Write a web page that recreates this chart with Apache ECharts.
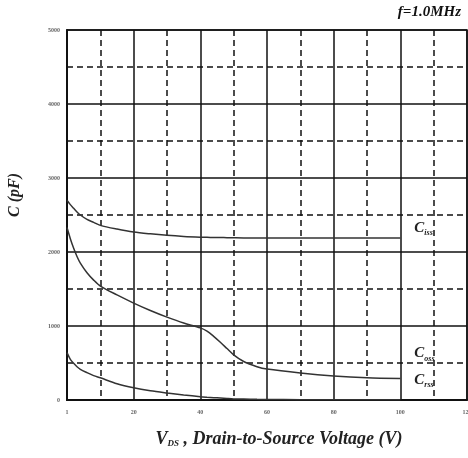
<!DOCTYPE html>
<html>
<head>
<meta charset="utf-8">
<script src="https://cdn.jsdelivr.net/npm/echarts@6/dist/echarts.min.js"></script>
<style>
  html, body { margin: 0; padding: 0; background: #fff; }
  #chart { width: 468px; height: 458px; }
</style>
</head>
<body>
<div id="chart"></div>
<script>
// drain-source voltage sample points (V)
const vds = [0, 1, 2, 3, 4, 6, 8, 10, 15, 20, 25, 30, 35, 40, 42, 44, 46, 48, 50, 53, 57, 60, 70, 80, 90, 100];
// capacitances (pF)
const ciss = [2700, 2640, 2590, 2540, 2500, 2440, 2400, 2360, 2310, 2270, 2245, 2225, 2210, 2200, 2198, 2196, 2195, 2194, 2192, 2190, 2190, 2190, 2190, 2190, 2190, 2190];
const coss = [2330, 2180, 2050, 1940, 1850, 1720, 1620, 1540, 1420, 1310, 1210, 1120, 1040, 975, 930, 860, 780, 695, 610, 520, 450, 418, 365, 325, 300, 290];
const crss = [640, 550, 495, 450, 415, 370, 330, 300, 220, 165, 125, 95, 68, 45, 38, 32, 26, 20, 15, 12, 9, 8, 5, 4, 3, 2];
const curveNames = ['iss', 'oss', 'rss'];
const labelOffsets = [[6, -10], [6, -25], [6, -20]];

const serif = '"Liberation Serif", "DejaVu Serif", serif';

function pairs(ys) {
    return vds.map((x, i) => [x, ys[i]]);
}

const chart = echarts.init(document.getElementById('chart'));

const series = [ciss, coss, crss].map((ys, i) => ({
    name: 'C' + curveNames[i],
    type: 'line',
    data: pairs(ys),
    showSymbol: false,
    smooth: 0.3,
    lineStyle: { color: '#333', width: 1.5 },
    endLabel: {
        show: true,
        offset: labelOffsets[i],
        formatter: () => '{c|C}{s|' + curveNames[i] + '}',
        rich: {
            c: { fontFamily: serif, fontStyle: 'italic', fontWeight: 'bold', fontSize: 15, color: '#222' },
            s: { fontFamily: serif, fontStyle: 'italic', fontWeight: 'bold', fontSize: 8, color: '#222', padding: [10, 0, 0, 0] }
        }
    }
}));

chart.setOption({
    animation: false,
    backgroundColor: '#fff',
    title: {
        text: 'f=1.0MHz',
        right: 2,
        top: 0,
        textStyle: { fontFamily: serif, fontStyle: 'italic', fontWeight: 'bold', fontSize: 15, color: '#111' }
    },
    grid: {
        left: 67, right: 1, top: 30, bottom: 58,
        outerBoundsMode: 'none',
        containLabel: false,
        show: true, borderColor: '#111', borderWidth: 1.5
    },
    xAxis: {
        type: 'value',
        min: 0, max: 120, interval: 20,
        name: '{v|V}{d|DS}{t| , Drain-to-Source Voltage (V)}',
        nameLocation: 'middle',
        nameGap: 30,
        nameTextStyle: {
            padding: [0, 0, 0, 24],
            rich: {
                v: { fontFamily: serif, fontStyle: 'italic', fontWeight: 'bold', fontSize: 18, color: '#222' },
                d: { fontFamily: serif, fontStyle: 'italic', fontWeight: 'bold', fontSize: 9, color: '#222', padding: [9, 0, 0, 0] },
                t: { fontFamily: serif, fontStyle: 'italic', fontWeight: 'bold', fontSize: 18, color: '#222' }
            }
        },
        axisLine: { lineStyle: { color: '#111', width: 2 } },
        axisTick: { show: false },
        axisLabel: {
            fontSize: 6, color: '#666', fontFamily: serif, fontWeight: 'bold', margin: 9,
            formatter: v => v === 0 ? '1' : String(v)
        },
        splitLine: { lineStyle: { color: '#111', width: 1.5 } },
        minorTick: { show: false, splitNumber: 2 },
        minorSplitLine: { show: true, lineStyle: { color: '#111', width: 1.5, type: [6, 4] } }
    },
    yAxis: {
        type: 'value',
        min: 0, max: 5000, interval: 1000,
        name: 'C (pF)',
        nameLocation: 'middle',
        nameGap: 44,
        nameTextStyle: {
            fontFamily: serif, fontStyle: 'italic', fontWeight: 'bold', fontSize: 16, color: '#222',
            padding: [0, 0, 0, 40]
        },
        axisLine: { show: true, lineStyle: { color: '#111', width: 2 } },
        axisTick: { show: false },
        axisLabel: {
            fontSize: 6, color: '#666', fontFamily: serif, fontWeight: 'bold', margin: 7,
            formatter: v => String(v)
        },
        splitLine: { lineStyle: { color: '#111', width: 1.5 } },
        minorTick: { show: false, splitNumber: 2 },
        minorSplitLine: { show: true, lineStyle: { color: '#111', width: 1.5, type: [6, 4] } }
    },
    series: series
});
</script>
</body>
</html>
